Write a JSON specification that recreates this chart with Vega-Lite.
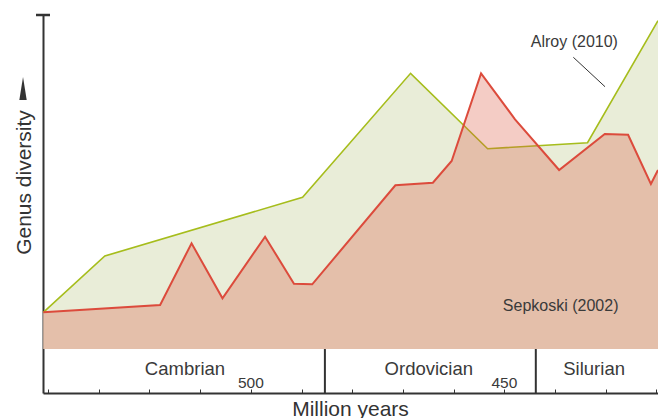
{
  "$schema": "https://vega.github.io/schema/vega-lite/v6.json",
  "width": 615,
  "height": 378,
  "autosize": {"type": "none"},
  "padding": {"left": 43, "top": 15, "right": 0, "bottom": 25},
  "config": {"view": {"stroke": null}, "font": "Liberation Sans"},
  "datasets": {
    "alroy": [
      {"age": 540.94, "value": 10.99},
      {"age": 528.8, "value": 27.84},
      {"age": 489.8, "value": 45.42},
      {"age": 468.5, "value": 82.54},
      {"age": 453.3, "value": 59.97},
      {"age": 433.6, "value": 61.77},
      {"age": 419.7, "value": 98.29}
    ],
    "sepkoski": [
      {"age": 540.94, "value": 10.99},
      {"age": 517.9, "value": 13.17},
      {"age": 511.7, "value": 31.65},
      {"age": 505.6, "value": 15.18},
      {"age": 497.2, "value": 33.62},
      {"age": 491.5, "value": 19.55},
      {"age": 487.9, "value": 19.37},
      {"age": 471.5, "value": 49.01},
      {"age": 464.1, "value": 49.79},
      {"age": 460.4, "value": 56.29},
      {"age": 454.6, "value": 82.54},
      {"age": 447.9, "value": 68.77},
      {"age": 439.2, "value": 53.59},
      {"age": 430.2, "value": 64.37},
      {"age": 425.6, "value": 64.16},
      {"age": 421.1, "value": 49.4},
      {"age": 419.7, "value": 53.59}
    ]
  },
  "layer": [
    {
      "data": {"name": "alroy"},
      "mark": {"type": "area", "color": "#e9edd8"},
      "encoding": {
        "x": {
          "field": "age", "type": "quantitative",
          "scale": {"domain": [419.7, 541], "reverse": true, "nice": false, "zero": false},
          "axis": {
            "values": [420, 430, 440, 450, 460, 470, 480, 490, 500, 510, 520, 530, 540],
            "labels": false, "grid": false,
            "domainColor": "#333333", "domainWidth": 2,
            "ticks": true, "tickSize": -4, "tickColor": "#333333", "tickWidth": 1,
            "title": "Million years", "titleFontSize": 21, "titleFontWeight": "normal",
            "titleColor": "#333333", "titleX": 307, "titleY": 22,
            "titleAlign": "center", "titleBaseline": "alphabetic"
          }
        },
        "y": {
          "field": "value", "type": "quantitative",
          "scale": {"domain": [-13.17, 100], "nice": false, "zero": false},
          "axis": {
            "labels": false, "ticks": false, "grid": false,
            "domainColor": "#333333", "domainWidth": 2,
            "title": "Genus diversity", "titleFontSize": 21, "titleFontWeight": "normal",
            "titleColor": "#333333", "titleAngle": 270, "titleX": -19, "titleY": 167,
            "titleAlign": "center", "titleBaseline": "middle"
          }
        },
        "y2": {"datum": 0}
      }
    },
    {
      "data": {"name": "alroy"},
      "mark": {"type": "line", "color": "#a6bd1c", "strokeWidth": 1.6},
      "encoding": {
        "x": {"field": "age", "type": "quantitative"},
        "y": {"field": "value", "type": "quantitative"}
      }
    },
    {
      "data": {"name": "sepkoski"},
      "mark": {"type": "area", "color": "#d9553f", "fillOpacity": 0.3},
      "encoding": {
        "x": {"field": "age", "type": "quantitative"},
        "y": {"field": "value", "type": "quantitative"},
        "y2": {"datum": 0}
      }
    },
    {
      "data": {"name": "sepkoski"},
      "mark": {"type": "line", "color": "#dc4b3c", "strokeWidth": 2},
      "encoding": {
        "x": {"field": "age", "type": "quantitative"},
        "y": {"field": "value", "type": "quantitative"}
      }
    },
    {
      "mark": {"type": "rule", "color": "#333333", "strokeWidth": 2},
      "encoding": {"y": {"datum": 0}}
    },
    {
      "data": {"values": [{"boundary": 485.4}, {"boundary": 443.8}]},
      "mark": {"type": "rule", "color": "#333333", "strokeWidth": 2},
      "encoding": {
        "x": {"field": "boundary", "type": "quantitative"},
        "y": {"datum": 0},
        "y2": {"datum": -13.17}
      }
    },
    {
      "data": {"values": [
        {"label": "Cambrian", "age": 513.0, "value": -7.8},
        {"label": "Ordovician", "age": 464.9, "value": -7.8},
        {"label": "Silurian", "age": 432.3, "value": -7.8}
      ]},
      "mark": {"type": "text", "fontSize": 18.5, "color": "#3a3a3a", "align": "center", "baseline": "alphabetic"},
      "encoding": {
        "x": {"field": "age", "type": "quantitative"},
        "y": {"field": "value", "type": "quantitative"},
        "text": {"field": "label"}
      }
    },
    {
      "data": {"values": [
        {"label": "500", "age": 500, "value": -11.77},
        {"label": "450", "age": 450, "value": -11.77}
      ]},
      "mark": {"type": "text", "fontSize": 15.5, "color": "#3a3a3a", "align": "center", "baseline": "alphabetic"},
      "encoding": {
        "x": {"field": "age", "type": "quantitative"},
        "y": {"field": "value", "type": "quantitative"},
        "text": {"field": "label"}
      }
    },
    {
      "data": {"values": [
        {"label": "Alroy (2010)", "age": 436.2, "value": 90.42},
        {"label": "Sepkoski (2002)", "age": 438.9, "value": 11.47}
      ]},
      "mark": {"type": "text", "fontSize": 16, "color": "#3a3a3a", "align": "center", "baseline": "alphabetic"},
      "encoding": {
        "x": {"field": "age", "type": "quantitative"},
        "y": {"field": "value", "type": "quantitative"},
        "text": {"field": "label"}
      }
    },
    {
      "data": {"values": [{"x1": 436.4, "y1": 87.34, "x2": 430.15, "y2": 78.53}]},
      "mark": {"type": "rule", "color": "#333333", "strokeWidth": 1},
      "encoding": {
        "x": {"field": "x1", "type": "quantitative"},
        "y": {"field": "y1", "type": "quantitative"},
        "x2": {"field": "x2"},
        "y2": {"field": "y2"}
      }
    },
    {
      "data": {"values": [{"age": 544.94, "value": 78.0}]},
      "mark": {"type": "point", "shape": "M0,-1L0.32,1L-0.32,1Z", "size": 529, "filled": true, "color": "#333333", "opacity": 1, "strokeWidth": 0},
      "encoding": {
        "x": {"field": "age", "type": "quantitative"},
        "y": {"field": "value", "type": "quantitative"}
      }
    },
    {
      "data": {"values": [{"a1": 542.38, "a2": 539.62, "v": 100}]},
      "mark": {"type": "rule", "color": "#333333", "strokeWidth": 2.5},
      "encoding": {
        "x": {"field": "a1", "type": "quantitative"},
        "x2": {"field": "a2"},
        "y": {"field": "v", "type": "quantitative"}
      }
    }
  ]
}
